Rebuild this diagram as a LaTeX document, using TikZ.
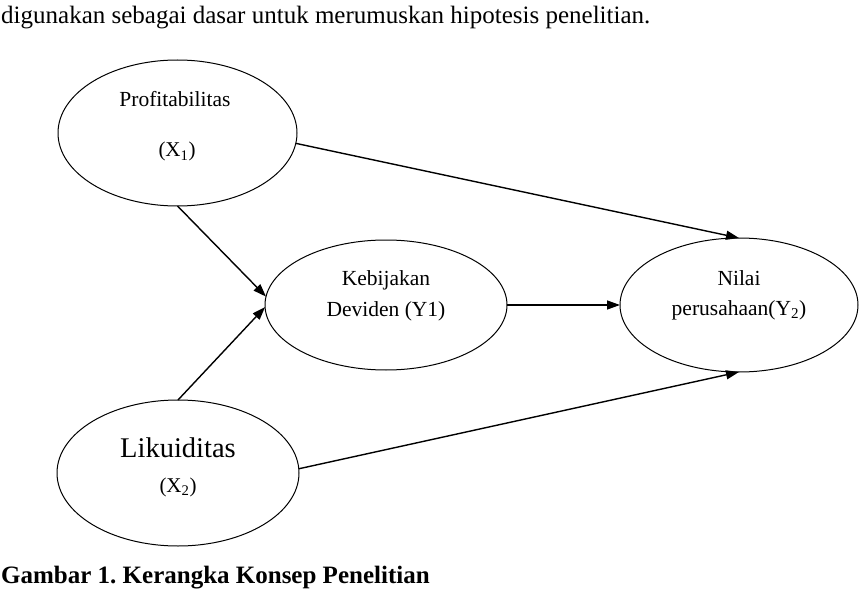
\documentclass[tikz,border=0pt]{standalone}
\usepackage{fontspec}
\setmainfont{Liberation Serif}
\usetikzlibrary{shapes.geometric,arrows.meta}
\frenchspacing
\begin{document}
\begin{tikzpicture}[x=1pt,y=-1pt,
  oval/.style={draw,ellipse,line width=1pt,inner sep=0pt,outer sep=0pt},
  conn/.style={line width=1.4pt,-{Triangle[length=13pt,width=9pt]}},
  lbl/.style={inner sep=0pt,anchor=base,font=\fontsize{21.5}{24}\selectfont}]
\useasboundingbox (0,0) rectangle (860,591);
\node[inner sep=0pt,anchor=base west,font=\fontsize{25}{28}\selectfont] (top) at (1,24) {digunakan sebagai dasar untuk merumuskan hipotesis penelitian.};
\node[oval,minimum width=239pt,minimum height=146pt] (P) at (177.5,133) {};
\node[oval,minimum width=242pt,minimum height=130pt] (K) at (386,305) {};
\node[oval,minimum width=238pt,minimum height=134pt] (N) at (739,305) {};
\node[oval,minimum width=242pt,minimum height=146pt] (L) at (178,473) {};
\node[lbl] (p1) at (175,107) {Profitabilitas};
\node[lbl,font=\fontsize{21}{24}\selectfont] (p2) at (177,157) {(X\textsubscript{1})};
\node[lbl] (k1) at (386,285) {Kebijakan};
\node[lbl] (k2) at (386,316) {Deviden (Y1)};
\node[lbl] (n1) at (739,285) {Nilai};
\node[lbl] (n2) at (739,315) {perusahaan(Y\textsubscript{2})};
\node[lbl,font=\fontsize{28.5}{32}\selectfont] (l1) at (178,457) {Likuiditas};
\node[lbl,font=\fontsize{21}{24}\selectfont] (l2) at (178,492) {(X\textsubscript{2})};
\draw[conn] (P.-5) -- (N.north);
\draw[conn] (P.south) -- (K.176);
\draw[conn] (L.north) -- (K.181);
\draw[conn] (K.east) -- (N.west);
\draw[conn] (L.2) -- (N.south);
\node[inner sep=0pt,anchor=base west,font=\fontsize{25}{28}\selectfont\bfseries] (cap) at (1,583) {Gambar 1. Kerangka Konsep Penelitian};
\end{tikzpicture}
\end{document}
